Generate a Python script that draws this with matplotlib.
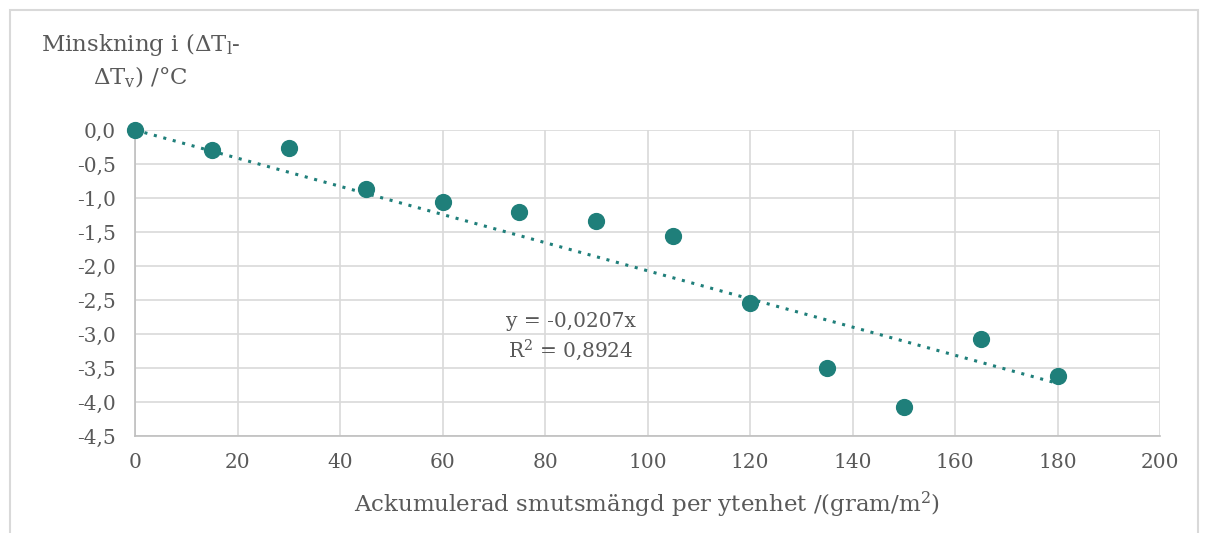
import matplotlib
matplotlib.use('Agg')
import matplotlib.pyplot as plt
import numpy as np
from matplotlib.ticker import FuncFormatter, MultipleLocator
from matplotlib.patches import Rectangle

# Smutsmängd vs minskning av temperaturdifferens
dirt = [0, 15, 30, 45, 60, 75, 90, 105, 120, 135, 150, 165, 180]
delta_t = [0.0, -0.29, -0.26, -0.87, -1.06, -1.21, -1.34, -1.56, -2.54, -3.50, -4.07, -3.07, -3.62]
slope = -0.0207
r2 = 0.8924

teal = '#1f7f7a'
grey_txt = '#595959'

plt.rcParams['font.family'] = ['DejaVu Serif']
plt.rcParams['mathtext.fontset'] = 'dejavuserif'

fig = plt.figure(figsize=(12.08, 5.33), dpi=100)
ax = fig.add_axes([135/1208, 1-436/533, (1160-135)/1208, (436-130)/533])

# frame round the chart area
fig.patches.append(Rectangle((10/1208, -0.01), (1198-10)/1208, 1-10/533+0.01,
                             transform=fig.transFigure, fill=False,
                             edgecolor='#d9d9d9', linewidth=1.5))

ax.scatter(dirt, delta_t, s=130, color=teal, zorder=3, clip_on=False)
xl = np.array([0, 180])
ax.plot(xl, slope * xl, linestyle=(0, (1, 2.2)), color=teal, linewidth=2.2, zorder=2)

ax.set_xlim(0, 200)
ax.set_ylim(-4.5, 0)
ax.xaxis.set_major_locator(MultipleLocator(20))
ax.yaxis.set_major_locator(MultipleLocator(0.5))
ax.yaxis.set_major_formatter(FuncFormatter(lambda v, p: f'{v:.1f}'.replace('.', ',')))
ax.grid(True, color='#d9d9d9', linewidth=1.2)
ax.set_axisbelow(True)
for s in ['top', 'right']:
    ax.spines[s].set_visible(False)
ax.spines['left'].set_color('#bfbfbf')
ax.spines['bottom'].set_color('#bfbfbf')
ax.spines['left'].set_linewidth(1.2)
ax.spines['bottom'].set_linewidth(1.2)
ax.tick_params(length=0, labelsize=14.5, colors=grey_txt)
ax.tick_params(axis='y', pad=14)
ax.tick_params(axis='x', pad=12)

ax.set_xlabel(r'Ackumulerad smutsmängd per ytenhet /(gram/m$^2$)', fontsize=16.5,
              color=grey_txt, labelpad=13)

fig.text(141/1208, 1-45/533, r'Minskning i ($\Delta$T$_\mathregular{l}$-', ha='center', va='center',
         fontsize=16.5, color=grey_txt)
fig.text(141/1208, 1-77/533, r'$\Delta$T$_\mathregular{v}$) /°C', ha='center', va='center',
         fontsize=16.5, color=grey_txt)

ax.text(85, -2.82, f'y = {slope:.4f}x'.replace('.', ','), ha='center', va='center',
        fontsize=14.5, color=grey_txt)
ax.text(85, -3.24, f'R$^2$ = {r2:.4f}'.replace('.', ','), ha='center', va='center',
        fontsize=14.5, color=grey_txt)

fig.savefig('out.png', dpi=100)
